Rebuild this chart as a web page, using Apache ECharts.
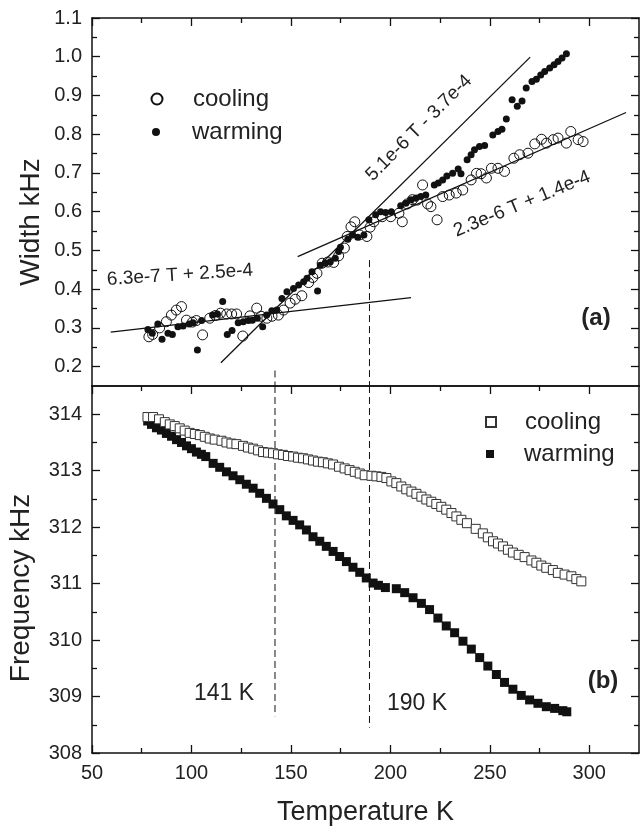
<!DOCTYPE html>
<html>
<head>
<meta charset="utf-8">
<script src="https://cdn.jsdelivr.net/npm/echarts@6/dist/echarts.min.js"></script>
<style>
  html, body { margin: 0; padding: 0; background: #fff; }
  #chart { width: 640px; height: 831px; }
</style>
</head>
<body>
<div id="chart"></div>
<script>
// axis ticks
var tempTicks = [50, 100, 150, 200, 250, 300];
var tempMinor = [75, 125, 175, 225, 275];
var widthTicks = [0.2, 0.3, 0.4, 0.5, 0.6, 0.7, 0.8, 0.9, 1.0, 1.1];
var widthMinor = [0.25, 0.35, 0.45, 0.55, 0.65, 0.75, 0.85, 0.95, 1.05];
var freqTicks = [308, 309, 310, 311, 312, 313, 314];
var freqMinor = [308.5, 309.5, 310.5, 311.5, 312.5, 313.5];

// (a) line width, [T, kHz]
var coolingWidth = [[78.6,0.277],[80.5,0.283],[84.0,0.300],[87.4,0.316],[89.9,0.333],[92.4,0.346],[95.0,0.355],[97.5,0.320],
  [100.5,0.315],[102.5,0.319],[105.6,0.282],[109.2,0.325],[112.0,0.332],[114.6,0.338],[117.7,0.336],[120.2,0.336],
  [122.7,0.336],[125.8,0.279],[129.4,0.331],[132.8,0.351],[135.0,0.330],[137.9,0.325],[140.5,0.330],[143.7,0.333],
  [146.3,0.346],[149.6,0.364],[152.2,0.374],[155.5,0.383],[158.9,0.417],[161.0,0.430],[163.1,0.441],[165.7,0.467],
  [168.5,0.470],[171.5,0.469],[174.0,0.486],[176.9,0.506],[178.3,0.536],[180.2,0.561],[182.1,0.574],[184.5,0.540],
  [188.2,0.536],[189.8,0.560],[191.7,0.574],[195.9,0.587],[200.2,0.587],[204.3,0.596],[206.0,0.574],[208.5,0.620],
  [211.1,0.631],[213.5,0.630],[216.2,0.669],[218.7,0.620],[220.4,0.613],[223.5,0.579],[226.3,0.639],[229.6,0.643],
  [233.1,0.648],[236.4,0.656],[240.6,0.682],[243.3,0.699],[245.6,0.698],[248.3,0.687],[250.8,0.712],[254.1,0.712],
  [257.4,0.704],[262.1,0.738],[265.0,0.747],[269.2,0.751],[272.6,0.775],[276.0,0.787],[278.5,0.777],[281.9,0.786],
  [284.3,0.790],[288.5,0.777],[290.7,0.807],[294.4,0.786],[296.9,0.781]];
var warmingWidth = [[78.1,0.296],[80.3,0.286],[83.1,0.310],[85.2,0.271],[88.2,0.286],[90.4,0.283],[93.2,0.303],[95.8,0.305],
  [98.8,0.310],[100.8,0.313],[103.0,0.243],[105.1,0.319],[110.6,0.333],[113.0,0.336],[115.7,0.368],[118.0,0.283],
  [120.4,0.293],[123.5,0.313],[126.0,0.316],[128.6,0.319],[130.6,0.320],[133.1,0.325],[135.8,0.303],[137.8,0.333],
  [140.4,0.344],[142.9,0.346],[145.5,0.376],[148.0,0.393],[151.3,0.402],[153.9,0.411],[156.4,0.419],[158.1,0.428],
  [160.6,0.445],[163.4,0.395],[164.8,0.462],[167.3,0.467],[169.8,0.471],[172.3,0.480],[174.0,0.497],[174.9,0.508],
  [178.6,0.529],[181.0,0.540],[183.6,0.534],[186.7,0.540],[189.2,0.579],[192.6,0.592],[195.1,0.600],[197.6,0.598],
  [200.5,0.600],[205.2,0.615],[207.8,0.622],[210.3,0.631],[212.8,0.635],[215.3,0.639],[217.8,0.643],[222.1,0.669],
  [224.1,0.674],[226.3,0.682],[228.4,0.692],[231.3,0.699],[234.1,0.710],[235.5,0.698],[238.6,0.734],[240.6,0.747],
  [242.3,0.760],[244.8,0.768],[247.4,0.771],[251.5,0.798],[254.1,0.807],[256.1,0.813],[258.3,0.839],[261.2,0.889],
  [263.8,0.872],[266.2,0.886],[268.3,0.919],[271.2,0.936],[273.4,0.942],[275.6,0.953],[277.6,0.962],[280.1,0.971],
  [282.3,0.979],[284.3,0.988],[286.3,0.997],[288.5,1.008]];

// fit lines (end points)
var fitLow = [[59.4, 0.289], [210.4, 0.378]];
var fitMid = [[114.8, 0.210], [270.3, 0.999]];
var fitHigh = [[153.4, 0.484], [318.5, 0.856]];

// (b) frequency, [T, kHz]
var coolingFreq = [[77.9,313.95],[80.7,313.95],[83.7,313.91],[86.6,313.86],[89.1,313.82],[91.6,313.79],[94.1,313.75],
  [96.6,313.71],[99.1,313.67],[101.7,313.65],[104.2,313.63],[106.7,313.60],[109.2,313.57],[111.7,313.55],[115.1,313.53],
  [117.6,313.50],[120.1,313.48],[122.6,313.47],[125.9,313.44],[128.4,313.41],[131.0,313.39],[133.5,313.36],[136.0,313.33],
  [138.5,313.32],[141.0,313.31],[143.5,313.29],[146.0,313.28],[148.5,313.26],[151.1,313.25],[153.6,313.23],[156.1,313.22],
  [158.6,313.20],[161.1,313.18],[163.6,313.16],[166.1,313.15],[168.6,313.13],[171.2,313.11],[174.2,313.07],[177.0,313.04],
  [179.5,313.01],[182.1,312.98],[184.6,312.95],[187.1,312.92],[190.5,312.91],[193.0,312.90],[195.5,312.89],[198.0,312.87],
  [200.5,312.81],[203.0,312.78],[205.5,312.72],[208.0,312.67],[210.6,312.63],[213.1,312.59],[215.6,312.54],[218.1,312.49],
  [220.6,312.45],[223.1,312.41],[225.6,312.36],[228.1,312.31],[230.7,312.25],[233.2,312.19],[235.7,312.13],[238.5,312.07],
  [242.9,311.97],[246.5,311.89],[249.0,311.82],[251.6,311.75],[254.1,311.71],[256.6,311.66],[259.1,311.60],[261.6,311.55],
  [264.5,311.51],[267.5,311.47],[270.9,311.41],[273.4,311.37],[275.9,311.32],[278.4,311.28],[281.7,311.24],[284.2,311.19],
  [287.6,311.16],[291.0,311.13],[293.5,311.08],[296.0,311.04]];
var warmingFreq = [[78.0,313.88],[79.9,313.82],[82.4,313.76],[84.9,313.72],[87.4,313.66],[90.0,313.61],[92.5,313.55],
  [95.0,313.50],[97.5,313.44],[100.0,313.39],[102.5,313.33],[105.0,313.29],[107.2,313.25],[110.9,313.13],[114.2,313.06],
  [117.6,312.98],[120.9,312.91],[124.3,312.84],[127.6,312.76],[131.0,312.69],[134.3,312.60],[137.7,312.51],[141.0,312.41],
  [144.4,312.31],[147.7,312.20],[151.1,312.12],[154.4,312.04],[157.8,311.95],[161.1,311.83],[164.5,311.75],[167.8,311.66],
  [171.2,311.57],[174.5,311.48],[177.9,311.39],[181.2,311.29],[184.6,311.20],[187.9,311.10],[191.3,311.01],[194.0,310.97],
  [197.5,310.93],[203.0,310.91],[207.2,310.84],[211.4,310.75],[215.6,310.65],[219.7,310.54],[223.9,310.39],[228.1,310.25],
  [232.3,310.13],[236.5,309.98],[240.7,309.84],[244.9,309.69],[249.0,309.54],[253.3,309.39],[257.4,309.25],[261.6,309.13],
  [265.8,309.02],[270.0,308.94],[274.2,308.88],[278.4,308.82],[282.6,308.79],[286.7,308.75],[288.7,308.73]];

// dashed transition markers (141 K, 190 K)
var transT = [142, 189.5];
var dashTopFrom = [0.19, 0.475];
var dashBottomTo = [308.65, 308.45];

var FONT = 'Liberation Sans';
var INK = '#111';

function makeAxis(grid, pos, min, max, ticks, len, withLine) {
  return {
    type: 'value', gridIndex: grid, position: pos, min: min, max: max,
    axisLine: { show: withLine, onZero: false, lineStyle: { color: INK, width: 1.5 } },
    axisTick: { show: ticks.length > 0, inside: true, length: len, customValues: ticks,
      lineStyle: { color: INK, width: 1.3 } },
    axisLabel: { show: false },
    splitLine: { show: false }
  };
}

var xBottom = makeAxis(1, 'bottom', 50, 325, tempTicks, 8, true);
xBottom.axisLabel = { show: true, customValues: tempTicks, margin: 10, fontSize: 20,
  fontFamily: FONT, color: '#222' };
xBottom.name = 'Temperature K';
xBottom.nameLocation = 'middle';
xBottom.nameGap = 46;
xBottom.nameTextStyle = { fontSize: 27, fontFamily: FONT, color: '#222' };

var yWidth = makeAxis(0, 'left', 0.15, 1.1, widthTicks, 8, true);
yWidth.axisLabel = { show: true, customValues: widthTicks, margin: 10, fontSize: 20, fontFamily: FONT,
  color: '#222', formatter: function(v) { return v.toFixed(1); } };

var yFreq = makeAxis(1, 'left', 308, 314.5, freqTicks, 8, true);
yFreq.axisLabel = { show: true, customValues: freqTicks, margin: 10, fontSize: 20, fontFamily: FONT,
  color: '#222' };

var xAxes = [
  makeAxis(0, 'top', 50, 325, tempTicks, 8, true),      // 0 data axis of (a)
  makeAxis(0, 'top', 50, 325, tempMinor, 5, false),
  makeAxis(0, 'bottom', 50, 325, [], 0, true),
  xBottom,                                              // 3 data axis of (b)
  makeAxis(1, 'bottom', 50, 325, tempMinor, 5, false),
  makeAxis(1, 'top', 50, 325, tempTicks, 8, true),
  makeAxis(1, 'top', 50, 325, tempMinor, 5, false)
];
var yAxes = [
  yWidth,                                               // 0 data axis of (a)
  makeAxis(0, 'left', 0.15, 1.1, widthMinor, 5, false),
  makeAxis(0, 'right', 0.15, 1.1, widthTicks, 8, true),
  makeAxis(0, 'right', 0.15, 1.1, widthMinor, 5, false),
  yFreq,                                                // 4 data axis of (b)
  makeAxis(1, 'left', 308, 314.5, freqMinor, 5, false),
  makeAxis(1, 'right', 308, 314.5, freqTicks, 8, true),
  makeAxis(1, 'right', 308, 314.5, freqMinor, 5, false)
];

function fitSeries(data) {
  return { type: 'line', xAxisIndex: 0, yAxisIndex: 0, data: data, symbol: 'none', silent: true,
    lineStyle: { color: INK, width: 1.3 }, z: 3 };
}
function dashSeries(data, xi, yi) {
  return { type: 'line', xAxisIndex: xi, yAxisIndex: yi, data: data, symbol: 'none', silent: true,
    lineStyle: { color: INK, width: 1, type: [7, 4] }, z: 2 };
}

var series = [
  fitSeries(fitLow), fitSeries(fitMid), fitSeries(fitHigh),
  { name: 'cooling (a)', type: 'scatter', xAxisIndex: 0, yAxisIndex: 0, data: coolingWidth,
    symbol: 'circle', symbolSize: 10,
    itemStyle: { color: 'rgba(255,255,255,0)', borderColor: INK, borderWidth: 1, opacity: 1 }, z: 4 },
  { name: 'warming (a)', type: 'scatter', xAxisIndex: 0, yAxisIndex: 0, data: warmingWidth,
    symbol: 'circle', symbolSize: 7, itemStyle: { color: INK, opacity: 1 }, z: 5 },
  { name: 'warming (b)', type: 'scatter', xAxisIndex: 3, yAxisIndex: 4, data: warmingFreq,
    symbol: 'rect', symbolSize: 9, itemStyle: { color: INK, opacity: 1 }, z: 4 },
  { name: 'cooling (b)', type: 'scatter', xAxisIndex: 3, yAxisIndex: 4, data: coolingFreq,
    symbol: 'rect', symbolSize: 9,
    itemStyle: { color: '#fff', borderColor: '#333', borderWidth: 1, opacity: 1 }, z: 5 }
];
for (var i = 0; i < transT.length; i++) {
  series.push(dashSeries([[transT[i], dashTopFrom[i]], [transT[i], 0.15]], 0, 0));
  series.push(dashSeries([[transT[i], 314.5], [transT[i], dashBottomTo[i]]], 3, 4));
}

// legend with square icon box; cx = icon centre, tx = text start
function legendBox(name, cx, cy, tx, size) {
  return { data: [name], left: cx - size / 2, top: cy - 12, padding: 0,
    itemWidth: size, itemHeight: size, selectedMode: false,
    formatter: function(n) { return n.split(' ')[0]; },
    textStyle: { fontSize: 24, fontFamily: FONT, color: '#222',
      padding: [0, 0, 0, tx - cx - size / 2 - 5] } };
}

function label(text, x, y, size, rotDeg, bold) {
  return { type: 'text', x: x, y: y, rotation: rotDeg * Math.PI / 180, silent: true,
    style: { text: text, fontSize: size, fontFamily: FONT, fontWeight: bold ? 'bold' : 'normal',
      fill: '#222', align: 'center', verticalAlign: 'middle' } };
}

var chart = echarts.init(document.getElementById('chart'));
chart.setOption({
  animation: false,
  backgroundColor: '#fff',
  grid: [
    { left: 92, top: 18, width: 547, height: 368, containLabel: false, outerBoundsMode: 'none' },
    { left: 92, top: 386, width: 547, height: 367, containLabel: false, outerBoundsMode: 'none' }
  ],
  xAxis: xAxes,
  yAxis: yAxes,
  legend: [
    legendBox('cooling (a)', 156, 99, 192, 11),
    legendBox('warming (a)', 156, 132, 192, 8),
    legendBox('cooling (b)', 490, 422, 524, 10),
    legendBox('warming (b)', 490, 454, 524, 8)
  ],
  graphic: [
    label('Width kHz', 31, 222, 28, 90),
    label('Frequency kHz', 21, 588, 28, 90),
    label('6.3e-7 T + 2.5e-4', 180, 275, 19, 3.7),
    label('5.1e-6 T - 3.7e-4', 419, 128, 19, 45),
    label('2.3e-6 T + 1.4e-4', 522, 204, 19, 22.5),
    label('(a)', 596, 318, 24, 0, true),
    label('(b)', 603, 681, 24, 0, true),
    label('141 K', 224, 694, 23, 0),
    label('190 K', 417, 704, 23, 0)
  ],
  series: series
});
</script>
</body>
</html>
